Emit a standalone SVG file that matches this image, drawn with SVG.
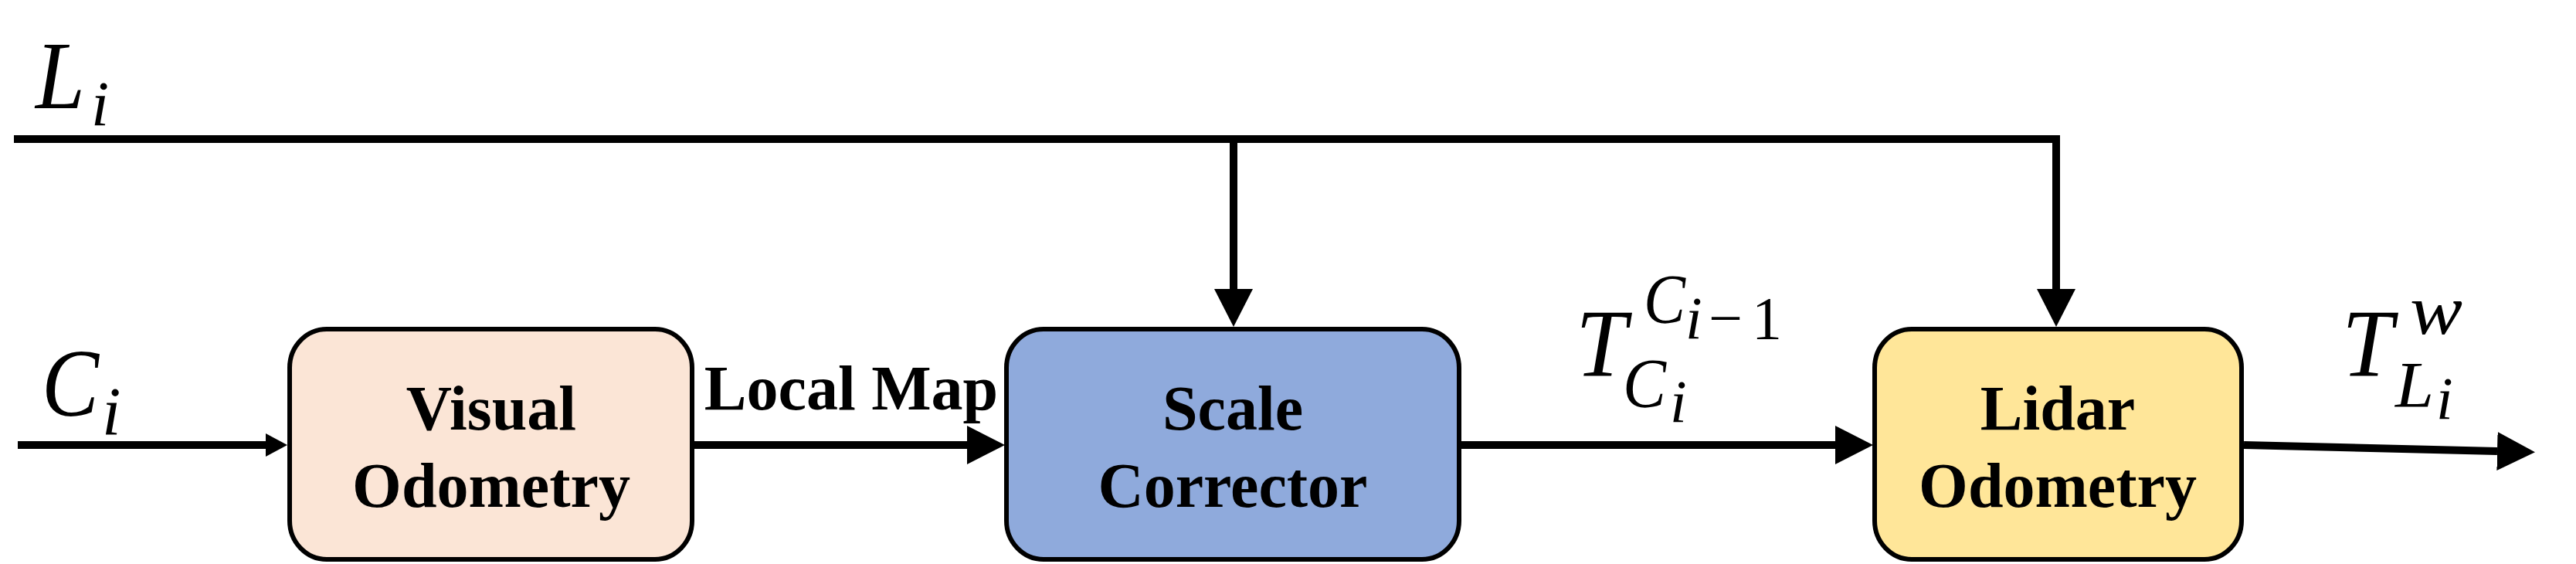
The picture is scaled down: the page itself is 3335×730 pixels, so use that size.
<svg xmlns="http://www.w3.org/2000/svg" width="3335" height="730" viewBox="0 0 3335 730">
<style>
.box{stroke:#000;stroke-width:6}
.lbl{font-family:"Liberation Serif","Times New Roman",serif;font-weight:bold;font-size:82px;text-anchor:middle;fill:#000}
.math{font-family:"Liberation Serif","Times New Roman",serif;font-style:italic;fill:#000}
.up{font-style:normal}
.wire{fill:none;stroke:#000;stroke-width:10;stroke-linejoin:miter}
</style>
<defs>
<marker id="ahS" markerUnits="userSpaceOnUse" markerWidth="30" markerHeight="30" refX="0" refY="15" orient="auto"><path d="M0,0 L28,15 L0,30 z" fill="#000"/></marker>
<marker id="ahL" markerUnits="userSpaceOnUse" markerWidth="50" markerHeight="50" refX="0" refY="25" orient="auto"><path d="M0,0 L49,25 L0,50 z" fill="#000"/></marker>
</defs>
<rect width="3335" height="730" fill="#fff"/>
<g id="connectors">
<path class="wire" d="M18,180 H2662 V374" marker-end="url(#ahL)"/>
<path class="wire" d="M1597,180 V374" marker-end="url(#ahL)"/>
<path class="wire" d="M23,576 H344" marker-end="url(#ahS)"/>
<path class="wire" d="M899,576 H1252" marker-end="url(#ahL)"/>
<path class="wire" d="M1892,576 H2376" marker-end="url(#ahL)"/>
<path class="wire" d="M2905,576 L3233,584" marker-end="url(#ahL)"/>
</g>
<g id="label-Li">
<text class="math"><tspan x="46" y="140" font-size="125" textLength="64" lengthAdjust="spacingAndGlyphs">L</tspan><tspan x="118" y="162" font-size="83">i</tspan></text>
</g>
<g id="label-Ci">
<text class="math"><tspan x="54" y="538" font-size="125" textLength="74" lengthAdjust="spacingAndGlyphs">C</tspan><tspan x="132" y="562" font-size="88">i</tspan></text>
</g>
<g id="label-localmap">
<text class="lbl" x="1102" y="530" font-size="80">Local Map</text>
</g>
<g id="label-T-cam">
<text class="math"><tspan x="2040" y="487" font-size="125" textLength="66" lengthAdjust="spacingAndGlyphs">T</tspan><tspan x="2128" y="418" font-size="90" textLength="54" lengthAdjust="spacingAndGlyphs">C</tspan><tspan x="2182" y="438" font-size="78">i</tspan><tspan class="up" x="2212" y="438" font-size="78">−</tspan><tspan class="up" x="2268" y="438" font-size="78">1</tspan><tspan x="2101" y="527" font-size="90" textLength="56" lengthAdjust="spacingAndGlyphs">C</tspan><tspan x="2162" y="546" font-size="78">i</tspan></text>
</g>
<g id="label-T-world">
<text class="math"><tspan x="3032" y="487" font-size="125" textLength="66" lengthAdjust="spacingAndGlyphs">T</tspan><tspan x="3120" y="432" font-size="90" textLength="68" lengthAdjust="spacingAndGlyphs">w</tspan><tspan x="3101" y="527" font-size="84" textLength="50" lengthAdjust="spacingAndGlyphs">L</tspan><tspan x="3154" y="542" font-size="78">i</tspan></text>
</g>
<g id="node-visual-odometry">
<rect class="box" x="375" y="426" width="521" height="298" rx="48" ry="50" fill="#FBE5D6"/>
<text class="lbl" x="636" y="556">Visual</text>
<text class="lbl" x="636" y="656">Odometry</text>
</g>
<g id="node-scale-corrector">
<rect class="box" x="1303" y="426" width="586" height="298" rx="48" ry="50" fill="#8FAADC"/>
<text class="lbl" x="1596" y="556">Scale</text>
<text class="lbl" x="1596" y="656">Corrector</text>
</g>
<g id="node-lidar-odometry">
<rect class="box" x="2427" y="426" width="475" height="298" rx="48" ry="50" fill="#FFE699"/>
<text class="lbl" x="2664" y="556">Lidar</text>
<text class="lbl" x="2664" y="656">Odometry</text>
</g>
</svg>
